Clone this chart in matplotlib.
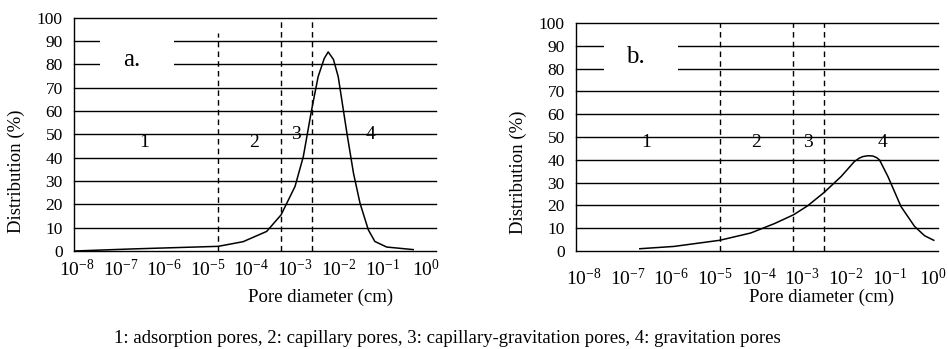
import numpy as np
import matplotlib
matplotlib.use("Agg")
import matplotlib.pyplot as plt
from matplotlib.ticker import FixedLocator, FixedFormatter, NullLocator

plt.rcParams['font.family'] = ['Liberation Serif', 'DejaVu Serif']
plt.rcParams['mathtext.fontset'] = 'custom'
plt.rcParams['mathtext.rm'] = 'Liberation Serif'
plt.rcParams['mathtext.it'] = 'Liberation Serif:italic'

# pore diameter given as log10(cm), distribution in %
log_d_a = [-8.06, -6.71, -4.76, -4.19, -3.65, -3.32, -3.00, -2.81, -2.62, -2.47,
           -2.33, -2.24, -2.12, -2.01, -1.81, -1.66, -1.51, -1.32, -1.17, -0.90, -0.29]
dist_a = [0.0, 0.9, 2.0, 4.0, 8.4, 15.5, 27.7, 40.5, 60.5, 74.8,
          82.6, 85.4, 82.2, 74.8, 50.5, 33.4, 20.5, 9.1, 4.1, 1.7, 0.6]

log_d_b = [-6.72, -5.94, -4.89, -4.18, -3.64, -3.20, -2.88, -2.50, -2.11, -1.81,
           -1.70, -1.62, -1.50, -1.39, -1.30, -1.23, -1.04, -0.74, -0.43, -0.20, 0.01]
dist_b = [1.0, 2.0, 4.7, 7.9, 12.0, 15.9, 19.8, 25.7, 32.7, 39.2,
          40.7, 41.4, 41.8, 41.7, 41.0, 39.9, 32.7, 19.5, 10.8, 6.7, 4.7]

# class boundaries (log10 cm)
bounds_a = [-4.77, -3.32, -2.61]
bounds_b = [-4.88, -3.21, -2.50]

# class number labels
classes = ['1', '2', '3', '4']
class_x_a = [-6.46, -3.94, -2.98, -1.28]
class_y_a = [46.4, 46.4, 49.8, 49.8]
class_x_b = [-6.58, -4.06, -2.86, -1.17]
class_y_b = [47.4, 47.4, 47.4, 47.4]

decades = list(range(-8, 1))
yticks = list(range(0, 101, 10))

caption = ("1: adsorption pores, 2: capillary pores, "
           "3: capillary-gravitation pores, 4: gravitation pores")


def panel(ax, log_d, dist, bounds, cx, cy, tag, tag_pos, xlim, gap, xpad, first_top):
    ax.set_xscale('log')
    ax.set_xlim(10 ** xlim[0], 10 ** xlim[1])
    ax.set_ylim(0, 100)
    ax.xaxis.set_major_locator(FixedLocator([10.0 ** k for k in decades]))
    ax.xaxis.set_major_formatter(FixedFormatter(['$10^{%d}$' % k for k in decades]))
    ax.xaxis.set_minor_locator(NullLocator())
    ax.set_yticks(yticks)
    ax.tick_params(axis='x', length=0, labelsize=14, pad=xpad)
    ax.tick_params(axis='y', length=0, labelsize=12.5, pad=8)

    for s in ['top', 'right']:
        ax.spines[s].set_visible(False)
    for s in ['left', 'bottom']:
        ax.spines[s].set_color('black')
        ax.spines[s].set_linewidth(1.0)

    for y in yticks[1:]:
        ax.axhline(y, color='black', lw=1.0, zorder=1, clip_on=False)

    # white box behind the panel tag, cutting the grid lines
    ax.axhspan(76, 94, xmin=gap[0], xmax=gap[1], facecolor='white',
               edgecolor='none', zorder=2)

    for i, b in enumerate(bounds):
        top = first_top if i == 0 else 100
        ax.plot([10 ** b, 10 ** b], [0, top], color='black', lw=1.0,
                ls=(0, (4, 3)), zorder=3)

    ax.plot(10 ** np.array(log_d), dist, color='black', lw=1.1, zorder=4)

    for t, x, y in zip(classes, cx, cy):
        ax.text(10 ** x, y, t, fontsize=14, ha='center', va='center', zorder=5)
    ax.text(10 ** tag_pos[0], tag_pos[1], tag, fontsize=18,
            ha='center', va='center', zorder=5)

    ax.set_xlabel('Pore diameter (cm)', fontsize=13.5)
    ax.set_ylabel('Distribution (%)', fontsize=13.5)


fig = plt.figure(figsize=(9.48, 3.49), dpi=100)
ax_a = fig.add_axes([0.078, 0.2808, 0.382, 0.668])
ax_b = fig.add_axes([0.6076, 0.2808, 0.382, 0.653])

panel(ax_a, log_d_a, dist_a, bounds_a, class_x_a, class_y_a, 'a.', (-6.74, 82),
      (-8.069, 0.234), (0.072, 0.276), 6, 93.5)
panel(ax_b, log_d_b, dist_b, bounds_b, class_x_b, class_y_b, 'b.', (-6.83, 85),
      (-8.18, 0.11), (0.077, 0.282), 12, 100)

ax_a.xaxis.set_label_coords(0.68, -0.16)
ax_b.xaxis.set_label_coords(0.677, -0.165)
ax_a.yaxis.set_label_coords(-0.135, 0.34)
ax_b.yaxis.set_label_coords(-0.135, 0.347)

fig.text(0.4715, 0.0315, caption, fontsize=13.5, ha='center', va='center')

fig.savefig('out.png', dpi=100)
